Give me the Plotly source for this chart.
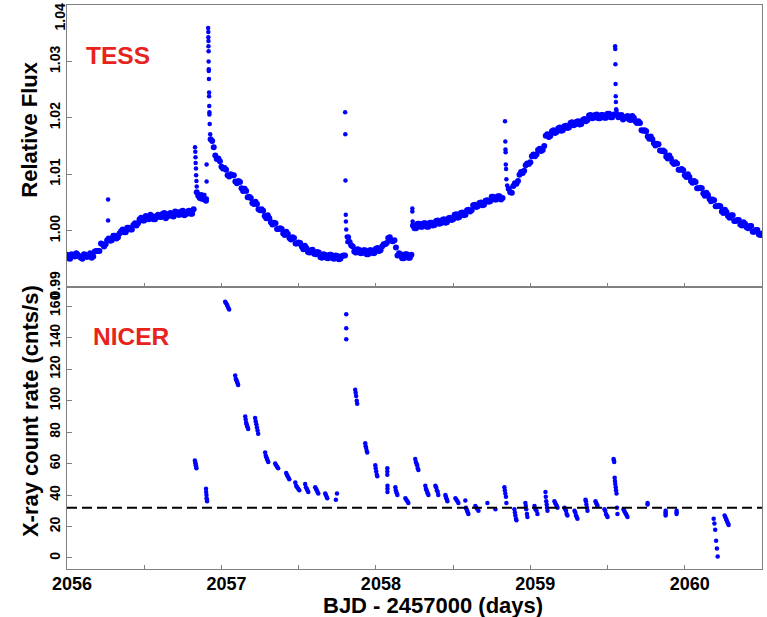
import plotly.graph_objects as go

# ---------------- DATA ----------------
# TESS light curve: days since BJD-2457000 = 2056, relative flux (even cadence set)
tess_dt = [0.00,0.02,0.04,0.06,0.08,0.10,0.12,0.14,0.16,0.18,0.20,0.22,0.24,0.26,0.28,0.30,0.32,0.34,0.36,0.38,
           0.40,0.42,0.44,0.46,0.48,0.50,0.52,0.54,0.56,0.58,0.60,0.62,0.64,0.66,0.68,0.70,0.72,0.74,0.76,0.78,
           0.80,0.82,0.84,0.86,0.88,0.90,0.94,0.96,0.98,1.00,1.02,1.04,1.06,1.08,1.10,1.12,1.14,1.16,1.18,1.20,
           1.22,1.24,1.26,1.28,1.30,1.32,1.34,1.36,1.38,1.40,1.42,1.44,1.46,1.48,1.50,1.52,1.54,1.56,1.58,1.60,
           1.62,1.64,1.66,1.68,1.70,1.72,1.74,1.76,1.78,1.80,1.82,1.84,1.86,1.88,1.90,1.92,1.94,1.96,1.98,2.00,
           2.02,2.04,2.06,2.08,2.10,2.12,2.14,2.16,2.18,2.20,2.22,2.24,2.26,2.28,2.30,2.32,2.34,2.36,2.38,2.40,
           2.42,2.44,2.46,2.48,2.50,2.52,2.54,2.56,2.58,2.60,2.62,2.64,2.66,2.68,2.70,2.72,2.74,2.76,2.78,2.80,
           2.82,2.86,2.88,2.90,2.92,2.94,2.96,2.98,3.00,3.02,3.04,3.06,3.08,3.10,3.12,3.14,3.16,3.18,3.20,3.22,
           3.24,3.26,3.28,3.30,3.32,3.34,3.36,3.38,3.40,3.42,3.44,3.46,3.48,3.50,3.52,3.54,3.56,3.58,3.60,3.62,
           3.64,3.66,3.68,3.70,3.72,3.74,3.76,3.78,3.80,3.82,3.84,3.86,3.88,3.90,3.92,3.94,3.96,3.98,4.00,4.02,
           4.04,4.06,4.08,4.10,4.12,4.14,4.16,4.18,4.20,4.22,4.24,4.26,4.28,4.30,4.32,4.34,4.36,4.38,4.40,4.42,
           4.44,4.46,4.48,4.50]
tess_flux = [0.9957,0.9950,0.9956,0.9960,0.9954,0.9950,0.9957,0.9955,0.9952,0.9963,0.9964,0.9977,0.9972,0.9983,0.9982,0.9991,0.9986,0.9995,1.0002,0.9997,
             1.0005,1.0002,1.0013,1.0013,1.0023,1.0018,1.0024,1.0028,1.0020,1.0026,1.0024,1.0030,1.0022,1.0030,1.0026,1.0034,1.0028,1.0034,1.0027,1.0034,
             1.0030,1.0038,1.0068,1.0058,1.0061,1.0053,1.0159,1.0133,1.0128,1.0113,1.0111,1.0098,1.0100,1.0098,1.0084,1.0086,1.0070,1.0070,1.0060,1.0049,
             1.0051,1.0038,1.0038,1.0026,1.0027,1.0015,1.0014,1.0003,1.0004,0.9995,0.9998,0.9987,0.9988,0.9977,0.9979,0.9972,0.9973,0.9962,0.9965,0.9959,
             0.9962,0.9953,0.9958,0.9952,0.9957,0.9951,0.9956,0.9949,0.9955,0.9956,0.9988,0.9974,0.9963,0.9967,0.9960,0.9965,0.9958,0.9965,0.9960,0.9968,
             0.9964,0.9972,0.9976,0.9987,0.9982,0.9983,0.9956,0.9958,0.9951,0.9958,0.9952,1.0009,1.0004,1.0012,1.0007,1.0013,1.0007,1.0014,1.0010,1.0018,
             1.0013,1.0020,1.0015,1.0023,1.0020,1.0029,1.0024,1.0032,1.0028,1.0037,1.0036,1.0046,1.0043,1.0050,1.0046,1.0054,1.0052,1.0060,1.0055,1.0061,
             1.0058,1.0074,1.0067,1.0084,1.0088,1.0104,1.0106,1.0119,1.0121,1.0135,1.0135,1.0145,1.0143,1.0168,1.0166,1.0176,1.0173,1.0181,1.0177,1.0185,
             1.0182,1.0191,1.0187,1.0193,1.0188,1.0196,1.0194,1.0204,1.0199,1.0205,1.0199,1.0205,1.0200,1.0207,1.0201,1.0206,1.0206,1.0204,1.0197,1.0202,
             1.0197,1.0203,1.0194,1.0194,1.0178,1.0178,1.0167,1.0167,1.0155,1.0154,1.0142,1.0142,1.0131,1.0133,1.0121,1.0121,1.0108,1.0109,1.0098,1.0100,
             1.0088,1.0088,1.0075,1.0076,1.0066,1.0067,1.0056,1.0055,1.0043,1.0044,1.0034,1.0037,1.0026,1.0027,1.0017,1.0019,1.0011,1.0015,1.0006,1.0008,
             0.9998,1.0001,0.9993,0.9995]

# TESS light curve, odd cadence set
tess_dt2 = [0.01,0.03,0.05,0.07,0.09,0.11,0.13,0.15,0.17,0.19,0.21,0.23,0.25,0.27,0.29,0.31,0.33,0.35,0.37,0.39,
            0.41,0.43,0.45,0.47,0.49,0.51,0.53,0.55,0.57,0.59,0.61,0.63,0.65,0.67,0.69,0.71,0.73,0.75,0.77,0.79,0.81,
            0.85,0.87,0.89,
            0.93,0.95,0.97,0.99,1.01,1.03,1.05,1.07,1.09,1.11,1.13,1.15,1.17,1.19,1.21,1.23,1.25,1.27,1.29,1.31,
            1.33,1.35,1.37,1.39,1.41,1.43,1.45,1.47,1.49,1.51,1.53,1.55,1.57,1.59,1.61,1.63,1.65,1.67,1.69,1.71,
            1.73,1.75,1.77,1.79,
            1.83,1.85,1.87,1.89,1.91,1.93,1.95,1.97,1.99,2.01,2.03,2.05,2.07,2.09,2.11,2.13,2.15,2.17,2.19,2.21,
            2.23,2.25,2.27,2.29,2.31,2.33,2.35,2.37,2.39,2.41,2.43,2.45,2.47,2.49,2.51,2.53,2.55,2.57,2.59,2.61,
            2.63,2.65,2.67,2.69,2.71,2.73,2.75,2.77,2.79,2.81,
            2.87,2.89,2.91,2.93,2.95,2.97,2.99,3.01,3.03,3.05,3.07,3.09,3.11,3.13,3.15,3.17,3.19,3.21,3.23,3.25,
            3.27,3.29,3.31,3.33,3.35,3.37,3.39,3.41,3.43,3.45,3.47,3.49,3.51,3.53,
            3.57,3.59,3.61,3.63,3.65,3.67,3.69,3.71,3.73,3.75,3.77,3.79,3.81,3.83,3.85,3.87,3.89,3.91,3.93,3.95,
            3.97,3.99,4.01,4.03,4.05,4.07,4.09,4.11,4.13,4.15,4.17,4.19,4.21,4.23,4.25,4.27,4.29,4.31,4.33,4.35,
            4.37,4.39,4.41,4.43,4.45,4.47,4.49]
tess_flux2 = [0.9951,0.9958,0.9954,0.9957,0.9952,0.9958,0.9953,0.9960,0.9954,0.9964,0.9964,0.9976,0.9976,0.9986,0.9983,0.9991,0.9988,0.9999,0.9997,1.0005,
              1.0002,1.0010,1.0009,1.0020,1.0018,1.0026,1.0020,1.0026,1.0020,1.0028,1.0024,1.0031,1.0025,1.0031,1.0025,1.0033,1.0028,1.0035,1.0029,1.0035,1.0030,
              1.0062,1.0063,1.0055,
              1.0162,1.0148,1.0127,1.0123,1.0110,1.0108,1.0096,1.0098,1.0087,1.0088,1.0075,1.0074,1.0059,1.0058,1.0047,1.0047,1.0036,1.0035,1.0022,1.0022,
              1.0011,1.0013,1.0003,1.0003,0.9992,0.9994,0.9984,0.9987,0.9977,0.9978,0.9967,0.9969,0.9961,0.9966,0.9958,0.9961,0.9952,0.9957,0.9951,0.9957,
              0.9950,0.9955,0.9950,0.9956,
              0.9980,0.9972,0.9961,0.9966,0.9960,0.9965,0.9958,0.9965,0.9960,0.9969,0.9965,0.9976,0.9978,0.9988,0.9981,0.9970,0.9960,0.9951,0.9958,0.9952,
              0.9957,1.0004,1.0012,1.0007,1.0013,1.0007,1.0014,1.0009,1.0017,1.0012,1.0019,1.0014,1.0022,1.0019,1.0028,1.0023,1.0031,1.0027,1.0036,1.0034,
              1.0045,1.0042,1.0049,1.0045,1.0053,1.0051,1.0060,1.0055,1.0061,1.0055,
              1.0068,1.0079,1.0083,1.0099,1.0102,1.0116,1.0118,1.0132,1.0132,1.0143,1.0141,1.0150,1.0171,1.0168,1.0178,1.0175,1.0183,1.0178,1.0186,1.0183,
              1.0192,1.0188,1.0194,1.0189,1.0198,1.0196,1.0205,1.0200,1.0206,1.0199,1.0205,1.0200,1.0207,1.0201,
              1.0201,1.0205,1.0199,1.0203,1.0196,1.0200,1.0191,1.0191,1.0177,1.0176,1.0163,1.0162,1.0151,1.0153,1.0141,1.0140,1.0128,1.0128,1.0118,1.0119,
              1.0108,1.0107,1.0095,1.0095,1.0085,1.0086,1.0075,1.0075,1.0062,1.0063,1.0052,1.0054,1.0043,1.0043,1.0031,1.0033,1.0023,1.0027,1.0017,1.0019,
              1.0009,1.0012,1.0004,1.0008,0.9998,1.0001,0.9992]

# TESS flare / outlier cadences
flare_dt = [0.266,0.266,
            0.829,0.831,0.832,0.833,0.835,0.836,0.838,0.840,0.850,0.870,0.890,0.905,0.904,0.904,
            0.914,0.915,0.915,0.916,0.916,0.917,0.917,0.918,0.918,0.919,0.920,0.920,0.921,0.922,0.922,0.924,0.927,
            1.801,1.802,1.803,1.805,1.806,1.808,1.811,1.815,
            2.236,2.236,2.238,
            2.836,2.838,2.839,2.840,2.841,2.843,2.845,2.850,
            3.549,3.550,3.551,3.552,3.553,3.554,3.556,3.558]
flare_flux = [1.0055,1.0018,
              1.0148,1.0140,1.0130,1.0120,1.0110,1.0098,1.0088,1.0078,1.0065,1.0055,1.0063,1.0057,1.0117,1.0087,
              1.0359,1.0352,1.0343,1.0336,1.0327,1.0318,1.0300,1.0286,1.0283,1.0269,1.0245,1.0238,1.0221,1.0210,1.0206,1.0189,1.0171,
              1.0210,1.0171,1.0089,1.0028,1.0016,1.0002,0.9989,0.9980,
              1.0039,1.0034,1.0016,
              1.0194,1.0158,1.0144,1.0139,1.0117,1.0109,1.0091,1.0080,
              1.0327,1.0322,1.0295,1.0260,1.0238,1.0228,1.0215,1.0212]

# NICER X-ray count rate (cnts/s), days since 2056
nicer_dt = [0.828,0.830,0.832,0.834,0.836,0.838,
            0.900,0.901,0.903,0.904,0.906,0.907,
            1.024,1.030,1.036,1.040,1.045,1.050,
            1.089,1.093,1.097,1.101,1.105,1.108,
            1.154,1.157,1.160,1.163,1.166,1.170,1.173,
            1.218,1.222,1.226,1.230,1.234,1.238,
            1.283,1.287,1.291,1.295,1.299,1.303,
            1.348,1.354,1.360,1.367,
            1.419,1.424,1.429,1.434,1.439,
            1.478,1.484,1.490,1.497,1.504,
            1.542,1.547,1.552,1.557,1.562,
            1.607,1.612,1.617,1.622,1.627,
            1.672,1.676,1.681,1.685,
            1.748,1.741,
            1.808,1.808,1.808,
            1.866,1.869,1.872,1.876,1.879,
            1.931,1.934,1.937,1.941,1.944,
            1.996,1.999,2.002,2.006,2.009,
            2.074,2.074,2.074,2.075,2.075,2.075,
            2.126,2.129,2.132,2.136,2.139,
            2.191,2.197,2.204,2.210,
            2.255,2.259,2.263,2.267,2.271,2.275,
            2.320,2.324,2.328,2.332,2.336,2.340,
            2.385,2.390,2.395,2.400,2.404,
            2.450,2.453,2.456,2.460,2.463,
            2.515,2.521,2.528,2.534,
            2.579,2.583,2.587,2.591,2.595,2.599,
            2.644,2.651,2.658,2.664,
            2.722,
            2.774,
            2.832,2.835,2.838,2.842,2.845,
            2.897,2.900,2.903,2.907,2.910,
            2.968,2.971,2.974,2.978,2.981,
            3.027,3.033,3.040,3.046,
            3.098,3.100,3.103,3.106,3.108,3.111,
            3.156,3.161,3.166,3.171,3.176,
            3.221,3.226,3.231,3.235,3.240,
            3.286,3.291,3.296,3.300,3.305,
            3.357,3.360,3.363,3.367,3.370,
            3.422,3.426,3.431,3.435,
            3.480,3.485,3.490,3.495,3.500,
            3.539,3.541,3.543,3.546,3.548,3.550,3.553,3.555,3.558,3.561,3.564,
            3.603,3.608,3.613,3.619,3.624,3.629,
            3.759,3.759,
            3.876,3.876,3.876,3.876,
            3.947,3.947,3.947,
            4.187,4.192,4.197,4.203,4.208,4.213,
            4.258,4.262,4.267,4.271,4.275,4.280,4.284]
nicer_rate = [62,61,60,59,58,57,
              44,42,40,38,37,36,
              163,162,161,160,159,158,
              116,114,113,112,111,110,
              90,88,86,85,84,83,82,
              89,87,85,83,81,79,
              67,65,64,63,62,61,
              60,59,58,57,
              54,53,52,51,50,
              48,46,45,44,43,
              47,45,44,43,42,
              45,44,43,42,41,
              41,40,39,38,
              41,37,
              155,146,139,
              107,105,103,100,98,
              73,71,70,68,67,
              59,57,55,53,52,
              57,55,53,46,44,42,
              45,43,42,41,40,
              38,37,36,35,
              63,61,60,59,57,56,
              46,44,43,42,41,40,
              46,45,43,42,40,
              40,39,38,37,36,
              38,37,36,35,
              36.5,32,31,30,29,28,
              33,32,31,30,
              35,
              31,
              45,43,41,39,35,
              31,29,27,25,24,
              35,33,31,28,26,
              33,31,30,28,
              42,39,36,34,32,30,
              36,35,34,33,32,
              32,31,30,28,27,
              30,29,27,26,25,
              37,36,34,32,30,
              36,35,34,33,
              31,30,28,27,26,
              63,62,61,51,49,47,45,43,41,32,28,
              31,30,29,28,27,26,
              35,34,
              30,29,28,27,
              30,29,28,
              25,22,18,11,6,1,
              27,26,25,24,23,22,21]
nicer_background = 32

t0 = 2056
x_ticks = [2056, 2056.5, 2057, 2057.5, 2058, 2058.5, 2059, 2059.5, 2060, 2060.5]
x_labels = ["2056", "", "2057", "", "2058", "", "2059", "", "2060", ""]
flux_ticks = [0.99, 1.00, 1.01, 1.02, 1.03, 1.04]
flux_labels = ["0.99", "1.00", "1.01", "1.02", "1.03", ""]
rate_ticks = [0, 20, 40, 60, 80, 100, 120, 140, 160]

# ---------------- FIGURE ----------------
FONT = "Liberation Sans, Arial, Helvetica, sans-serif"
BLUE = "#0000ff"
FRAME = "#808080"
RED = "#e8231c"

base_x = [t0 + v for v in tess_dt] + [t0 + v for v in tess_dt2]
base_y = tess_flux + tess_flux2
flare_x = [t0 + v for v in flare_dt]
nicer_x = [t0 + v for v in nicer_dt]

fig = go.Figure()
fig.add_trace(go.Scatter(x=base_x, y=base_y, mode="markers", xaxis="x", yaxis="y",
                         marker=dict(color=BLUE, size=6, line=dict(width=0)), showlegend=False))
fig.add_trace(go.Scatter(x=flare_x, y=flare_flux, mode="markers", xaxis="x", yaxis="y",
                         marker=dict(color=BLUE, size=4.5, line=dict(width=0)), showlegend=False))
fig.add_trace(go.Scatter(x=nicer_x, y=nicer_rate, mode="markers", xaxis="x2", yaxis="y2",
                         marker=dict(color=BLUE, size=4.5, line=dict(width=0)), showlegend=False))

common_x = dict(range=[2056, 2060.5], showgrid=False, zeroline=False, showline=True, mirror=True,
                linecolor=FRAME, linewidth=1.2, ticks="inside", ticklen=4, tickcolor=FRAME,
                tickvals=x_ticks, ticktext=x_labels, automargin=False)
common_y = dict(showgrid=False, zeroline=False, showline=True, mirror=True, linecolor=FRAME,
                linewidth=1.2, ticks="inside", ticklen=5, tickcolor=FRAME, tickangle=-90,
                automargin=False,
                tickfont=dict(family=FONT, size=14, color="black", weight="bold"))

fig.update_layout(
    width=767, height=617,
    margin=dict(l=67, r=5, t=5, b=48, autoexpand=False),
    paper_bgcolor="white", plot_bgcolor="white",
    xaxis=dict(domain=[0, 1], anchor="y", showticklabels=False, **common_x),
    yaxis=dict(domain=[0.5, 1], anchor="x", range=[0.99, 1.04],
               tickvals=flux_ticks, ticktext=flux_labels, **common_y),
    xaxis2=dict(domain=[0, 1], anchor="y2", showticklabels=True, ticklabelshift=5,
                ticklabelstandoff=-2,
                tickfont=dict(family=FONT, size=18, color="black", weight="bold"), **common_x),
    yaxis2=dict(domain=[0, 0.5], anchor="x2", range=[-7, 172.3], tickvals=rate_ticks, **common_y),
)

fig.add_shape(type="line", xref="x2 domain", yref="y2", x0=0, x1=1,
              y0=nicer_background, y1=nicer_background,
              line=dict(color="black", width=2, dash="10px,5px"))

ann = []
ann.append(dict(text="1.04", xref="paper", yref="paper", x=-0.0094, y=0.9787, showarrow=False,
                textangle=-90, xanchor="center", yanchor="middle",
                font=dict(family=FONT, size=14, color="black", weight="bold")))
ann.append(dict(text="Relative Flux", xref="paper", yref="paper", x=-0.0532, y=0.779, showarrow=False,
                textangle=-90, xanchor="center", yanchor="middle",
                font=dict(family=FONT, size=22, color="black", weight="bold")))
ann.append(dict(text="X-ray count rate (cnts/s)", xref="paper", yref="paper", x=-0.0532, y=0.280,
                showarrow=False, textangle=-90, xanchor="center", yanchor="middle",
                font=dict(family=FONT, size=22, color="black", weight="bold")))
ann.append(dict(text="BJD - 2457000 (days)", xref="paper", yref="paper", x=0.527, y=-0.0640,
                showarrow=False, xanchor="center", yanchor="middle",
                font=dict(family=FONT, size=22, color="black", weight="bold")))
ann.append(dict(text="TESS", xref="paper", yref="paper", x=0.0727, y=0.911, showarrow=False,
                xanchor="center", yanchor="middle",
                font=dict(family=FONT, size=24.5, color=RED, weight="bold")))
ann.append(dict(text="NICER", xref="paper", yref="paper", x=0.0928, y=0.413, showarrow=False,
                xanchor="center", yanchor="middle",
                font=dict(family=FONT, size=24.5, color=RED, weight="bold")))
fig.update_layout(annotations=ann)

fig.write_html("out.html", config={"displayModeBar": False},
               post_script="document.body.style.margin='0';document.body.style.padding='0';")
